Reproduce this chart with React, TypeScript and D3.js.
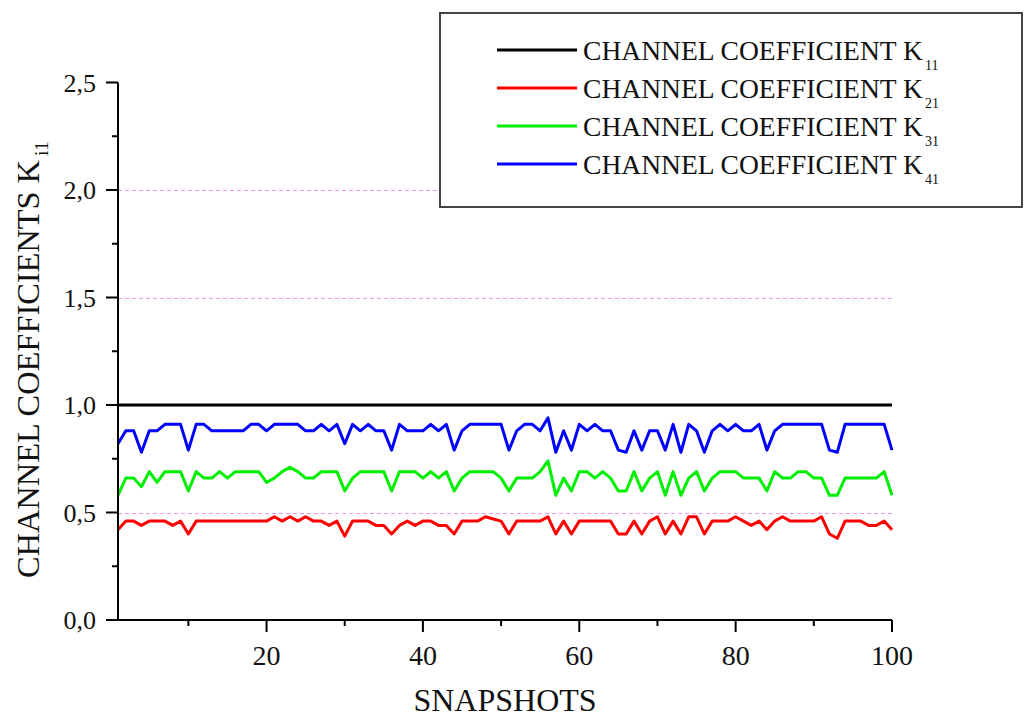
import React from "react";
import * as d3 from "d3";

// Snapshot index 1..100
const snapshots: number[] = Array.from({ length: 100 }, (_, i) => i + 1);

// Channel coefficient magnitudes per snapshot
const k11: number[] = [
  1.0, 1.0, 1.0, 1.0, 1.0, 1.0, 1.0, 1.0, 1.0, 1.0,
  1.0, 1.0, 1.0, 1.0, 1.0, 1.0, 1.0, 1.0, 1.0, 1.0,
  1.0, 1.0, 1.0, 1.0, 1.0, 1.0, 1.0, 1.0, 1.0, 1.0,
  1.0, 1.0, 1.0, 1.0, 1.0, 1.0, 1.0, 1.0, 1.0, 1.0,
  1.0, 1.0, 1.0, 1.0, 1.0, 1.0, 1.0, 1.0, 1.0, 1.0,
  1.0, 1.0, 1.0, 1.0, 1.0, 1.0, 1.0, 1.0, 1.0, 1.0,
  1.0, 1.0, 1.0, 1.0, 1.0, 1.0, 1.0, 1.0, 1.0, 1.0,
  1.0, 1.0, 1.0, 1.0, 1.0, 1.0, 1.0, 1.0, 1.0, 1.0,
  1.0, 1.0, 1.0, 1.0, 1.0, 1.0, 1.0, 1.0, 1.0, 1.0,
  1.0, 1.0, 1.0, 1.0, 1.0, 1.0, 1.0, 1.0, 1.0, 1.0,
];

const k21: number[] = [
  0.42, 0.46, 0.46, 0.44, 0.46, 0.46, 0.46, 0.44, 0.46, 0.40,
  0.46, 0.46, 0.46, 0.46, 0.46, 0.46, 0.46, 0.46, 0.46, 0.46,
  0.48, 0.46, 0.48, 0.46, 0.48, 0.46, 0.46, 0.44, 0.46, 0.39,
  0.46, 0.46, 0.46, 0.44, 0.44, 0.40, 0.44, 0.46, 0.44, 0.46,
  0.46, 0.44, 0.44, 0.40, 0.46, 0.46, 0.46, 0.48, 0.47, 0.46,
  0.40, 0.46, 0.46, 0.46, 0.46, 0.48, 0.40, 0.46, 0.40, 0.46,
  0.46, 0.46, 0.46, 0.46, 0.40, 0.40, 0.46, 0.40, 0.46, 0.48,
  0.40, 0.46, 0.40, 0.48, 0.48, 0.40, 0.46, 0.46, 0.46, 0.48,
  0.46, 0.44, 0.46, 0.42, 0.46, 0.48, 0.46, 0.46, 0.46, 0.46,
  0.48, 0.40, 0.38, 0.46, 0.46, 0.46, 0.44, 0.44, 0.46, 0.42,
];

const k31: number[] = [
  0.58, 0.66, 0.66, 0.62, 0.69, 0.64, 0.69, 0.69, 0.69, 0.60,
  0.69, 0.66, 0.66, 0.69, 0.66, 0.69, 0.69, 0.69, 0.69, 0.64,
  0.66, 0.69, 0.71, 0.69, 0.66, 0.66, 0.69, 0.69, 0.69, 0.60,
  0.66, 0.69, 0.69, 0.69, 0.69, 0.60, 0.69, 0.69, 0.69, 0.66,
  0.69, 0.66, 0.69, 0.60, 0.66, 0.69, 0.69, 0.69, 0.69, 0.66,
  0.60, 0.66, 0.66, 0.66, 0.69, 0.74, 0.58, 0.66, 0.60, 0.69,
  0.69, 0.66, 0.69, 0.66, 0.60, 0.60, 0.69, 0.60, 0.66, 0.69,
  0.58, 0.69, 0.58, 0.66, 0.69, 0.60, 0.66, 0.69, 0.69, 0.69,
  0.66, 0.66, 0.66, 0.60, 0.69, 0.66, 0.66, 0.69, 0.69, 0.66,
  0.66, 0.58, 0.58, 0.66, 0.66, 0.66, 0.66, 0.66, 0.69, 0.58,
];

const k41: number[] = [
  0.82, 0.88, 0.88, 0.78, 0.88, 0.88, 0.91, 0.91, 0.91, 0.79,
  0.91, 0.91, 0.88, 0.88, 0.88, 0.88, 0.88, 0.91, 0.91, 0.88,
  0.91, 0.91, 0.91, 0.91, 0.88, 0.88, 0.91, 0.88, 0.91, 0.82,
  0.91, 0.88, 0.91, 0.88, 0.88, 0.79, 0.91, 0.88, 0.88, 0.88,
  0.91, 0.88, 0.91, 0.79, 0.88, 0.91, 0.91, 0.91, 0.91, 0.91,
  0.79, 0.88, 0.91, 0.91, 0.88, 0.94, 0.78, 0.88, 0.79, 0.91,
  0.88, 0.91, 0.88, 0.88, 0.79, 0.78, 0.88, 0.79, 0.88, 0.88,
  0.79, 0.91, 0.78, 0.91, 0.88, 0.78, 0.88, 0.91, 0.88, 0.91,
  0.88, 0.88, 0.91, 0.79, 0.88, 0.91, 0.91, 0.91, 0.91, 0.91,
  0.91, 0.79, 0.78, 0.91, 0.91, 0.91, 0.91, 0.91, 0.91, 0.79,
];

const seriesNames: string[] = ["11", "21", "31", "41"];
const seriesColors: string[] = ["#000000", "#ff0000", "#00ee00", "#0000ff"];
const seriesValues: number[][] = [k11, k21, k31, k41];

const yMajorTicks: number[] = [0, 0.5, 1.0, 1.5, 2.0, 2.5];
const yMinorTicks: number[] = [0.25, 0.75, 1.25, 1.75, 2.25];
const xMajorTicks: number[] = [20, 40, 60, 80, 100];
const xMinorTicks: number[] = [10, 30, 50, 70, 90];
const gridValues: number[] = [0.5, 1.5, 2.0];

const FONT = "'Liberation Serif', 'Times New Roman', serif";

export default function App() {
  const x = d3.scaleLinear().domain([1, 100]).range([118, 892]);
  const y = d3.scaleLinear().domain([0, 2.5]).range([620, 82.5]);
  const fmt = (v: number) => d3.format(".1f")(v).replace(".", ",");

  const line = (vals: number[]) =>
    d3
      .line<number>()
      .x((_, i) => x(snapshots[i]))
      .y((d) => y(d))(vals) as string;

  const x0 = x(1);
  const x1 = x(100);
  const yBase = y(0);

  const legendRowY = [50, 88, 126, 164];

  return (
    <svg
      width={1024}
      height={720}
      style={{ position: "absolute", left: 0, top: 0, background: "#fff" }}
      fontFamily={FONT}
    >
      {/* dashed reference lines, snapped to the pixel grid */}
      {gridValues.map((g) => {
        const gy = Math.round(y(g)) + 0.5;
        return (
          <line
            key={"g" + g}
            x1={x0}
            x2={x1}
            y1={gy}
            y2={gy}
            stroke="#ee99ee"
            strokeWidth={1}
            strokeDasharray="4,3"
          />
        );
      })}

      {/* series */}
      {seriesValues.map((vals, i) => (
        <path
          key={"s" + i}
          d={line(vals)}
          fill="none"
          stroke={seriesColors[i]}
          strokeWidth={3}
          strokeLinejoin="round"
        />
      ))}

      {/* axes */}
      <line x1={x0} x2={x0} y1={y(2.5)} y2={yBase} stroke="#000" strokeWidth={2} />
      <line x1={x0 - 1} x2={x1} y1={yBase} y2={yBase} stroke="#000" strokeWidth={2} />

      {yMajorTicks.map((t) => (
        <g key={"ym" + t}>
          <line x1={x0 - 12} x2={x0} y1={y(t)} y2={y(t)} stroke="#000" strokeWidth={2} />
          <text x={x0 - 22} y={y(t) + 9} fontSize={26} textAnchor="end" fill="#111">
            {fmt(t)}
          </text>
        </g>
      ))}
      {yMinorTicks.map((t) => (
        <line key={"yn" + t} x1={x0 - 6} x2={x0} y1={y(t)} y2={y(t)} stroke="#000" strokeWidth={2} />
      ))}

      {xMajorTicks.map((t) => (
        <g key={"xm" + t}>
          <line x1={x(t)} x2={x(t)} y1={yBase} y2={yBase + 12} stroke="#000" strokeWidth={2} />
          <text x={x(t)} y={yBase + 45} fontSize={28} textAnchor="middle" fill="#111">
            {t}
          </text>
        </g>
      ))}
      {xMinorTicks.map((t) => (
        <line key={"xn" + t} x1={x(t)} x2={x(t)} y1={yBase} y2={yBase + 6} stroke="#000" strokeWidth={2} />
      ))}

      {/* axis titles */}
      <text x={505} y={711} fontSize={32} textAnchor="middle" fill="#111">
        SNAPSHOTS
      </text>
      <g transform="translate(39,578) rotate(-90)">
        <text x={0} y={0} fontSize={31} fill="#111" textLength={418} lengthAdjust="spacingAndGlyphs">
          CHANNEL COEFFICIENTS K
        </text>
        <text x={422} y={9} fontSize={19} fill="#111">
          i1
        </text>
      </g>

      {/* legend */}
      <rect x={440} y={13} width={582} height={194} fill="#fff" stroke="#444" strokeWidth={2} />
      {seriesNames.map((n, i) => (
        <g key={"l" + n}>
          <line
            x1={497}
            x2={577}
            y1={legendRowY[i]}
            y2={legendRowY[i]}
            stroke={seriesColors[i]}
            strokeWidth={3}
          />
          <text x={583} y={legendRowY[i] + 10} fontSize={27} fill="#111" textLength={340} lengthAdjust="spacingAndGlyphs">
            CHANNEL COEFFICIENT K
          </text>
          <text x={925} y={legendRowY[i] + 20} fontSize={14} fill="#111">
            {n}
          </text>
        </g>
      ))}
    </svg>
  );
}
